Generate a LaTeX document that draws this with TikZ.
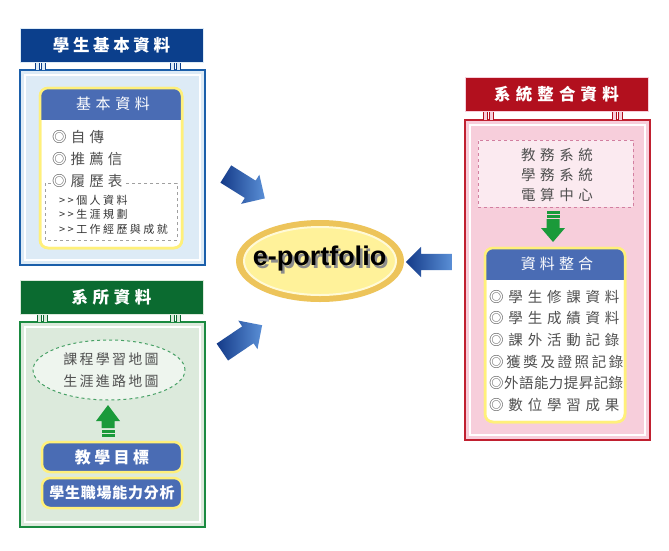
\documentclass[tikz,border=0pt]{standalone}
\usepackage{fontspec}
\setmainfont{Noto Sans CJK TC}
\newfontfamily\latinbold{Liberation Sans}
\usetikzlibrary{shapes.arrows,shapes.geometric,shadings,calc}
\definecolor{navy}{HTML}{0B3F8C}
\definecolor{bluebd}{HTML}{1B5FAA}
\definecolor{bluefill}{HTML}{DDEBF6}
\definecolor{hdrblue}{HTML}{4A6CB4}
\definecolor{ylw}{HTML}{FFF07A}
\definecolor{grtitle}{HTML}{0B6B30}
\definecolor{grbd}{HTML}{1A8A40}
\definecolor{grfill}{HTML}{DCEADC}
\definecolor{grlight}{HTML}{EEF5EE}
\definecolor{rdtitle}{HTML}{B2101E}
\definecolor{rdbd}{HTML}{C02030}
\definecolor{pkfill}{HTML}{F7CEDB}
\definecolor{pklight}{HTML}{FBEAF0}
\definecolor{pkdash}{HTML}{D27FA0}
\definecolor{garrow}{HTML}{1A9A3A}
\definecolor{itemgray}{HTML}{505050}
\definecolor{gold}{HTML}{EDC45A}
\definecolor{paleyel}{HTML}{FFF29A}
\definecolor{arrdark}{HTML}{143A88}
\definecolor{arrlight}{HTML}{5A8FD6}
\newcommand{\ls}[2]{{\addfontfeatures{LetterSpace=#1}#2}}
\begin{document}
\begin{tikzpicture}[x=1pt,y=-1pt,
  titlebar/.style={minimum width=183pt, minimum height=34pt, inner sep=0pt,
     text=white, font=\fontsize{16.5}{18}\selectfont\bfseries},
  hdrtext/.style={text=white, inner sep=0pt, font=\fontsize{15}{17}\selectfont},
  item/.style={text=itemgray, inner sep=0pt, font=\fontsize{14.5}{17}\selectfont},
  subitem/.style={text=black!80, inner sep=0pt, font=\fontsize{11}{13}\selectfont},
  bluebtn/.style={draw=ylw, line width=2.5pt, fill=hdrblue, rounded corners=8pt,
     minimum width=140pt, minimum height=30pt, inner sep=0pt, text=white},
  bigarrow/.style={single arrow, draw=none, inner sep=0pt, left color=arrdark, right color=arrlight},
  tabline/.style={line width=0.9pt}
]
\useasboundingbox[fill=white] (0,0) rectangle (669,550);

% ================= Blue group =================
\draw[bluebd, line width=1.8pt, fill=bluefill] (20,70) rectangle (205,265);
\draw[white, line width=1.2pt] (25,75) rectangle (200,260);
\foreach \x in {35,41,170,176}{
  \fill[bluefill] (\x,61) rectangle (\x+4,70);
  \draw[navy, tabline] (\x,61) -- (\x,70) (\x+4,61) -- (\x+4,70);
}
\node[titlebar, fill=navy, draw=bluefill, line width=1pt] (t1) at (111.5,45) {\ls{22}{學生基本資料}};
\draw[ylw, line width=2.5pt, fill=white, rounded corners=8pt] (40,88) rectangle (182,248);
\begin{scope}
  \clip[rounded corners=8pt] (40,88) rectangle (182,248);
  \fill[hdrblue] (40,88) rectangle (182,120);
\end{scope}
\draw[ylw, line width=2.5pt, rounded corners=8pt] (40,88) rectangle (182,248);
\node[hdrtext] (h1) at (113,104) {\ls{31}{基本資料}};
\node[item, anchor=west] (b1) at (52,137) {\ls{29}{◎自傳}};
\node[item, anchor=west] (b2) at (52,159) {\ls{28}{◎推薦信}};
\draw[gray!75, dashed, line width=1pt] (45,183) rectangle (177,240);
\node[item, anchor=west, fill=white, inner xsep=1pt, inner ysep=0pt] (b3) at (51,181) {\ls{28}{◎履歷表}};
\node[subitem, anchor=west] (s1) at (59,200) {\ls{22}{>{}>個人資料}};
\node[subitem, anchor=west] (s2) at (59,214) {\ls{22}{>{}>生涯規劃}};
\node[subitem, anchor=west] (s3) at (59,229) {\ls{22}{>{}>工作經歷與成就}};

% ================= Green group =================
\draw[grbd, line width=1.8pt, fill=grfill] (20,322) rectangle (205,527);
\draw[white, line width=1.2pt] (25,327) rectangle (200,522);
\foreach \x in {37,43,170,176}{
  \fill[grfill] (\x,313) rectangle (\x+4,322);
  \draw[grtitle, tabline] (\x,313) -- (\x,322) (\x+4,313) -- (\x+4,322);
}
\node[titlebar, fill=grtitle, draw=grfill, line width=1pt] (t2) at (111.5,297) {\ls{28}{系所資料}};
\node[ellipse, draw=grbd!80, dashed, line width=1pt, fill=grlight,
      minimum width=152pt, minimum height=60pt, inner sep=0pt] (map) at (109,370) {};
\node[item, align=center, font=\fontsize{14}{22}\selectfont] (maptxt) at (111,370)
   {\ls{16}{課程學習地圖}\\\ls{16}{生涯進路地圖}};
\coordinate (ga) at (108,405);
\fill[garrow] (ga) -- ++(12,16) -- ++(-5.5,0) -- ++(0,7) -- ++(-13,0) -- ++(0,-7) -- ++(-5.5,0) -- cycle;
\fill[garrow] ($(ga)+(-6.5,25)$) rectangle ++(13,2.5);
\fill[garrow] ($(ga)+(-6.5,29)$) rectangle ++(13,2.5);
\node[bluebtn, font=\fontsize{16}{18}\selectfont\bfseries] (goal) at (112,457) {\ls{21}{教學目標}};
\node[bluebtn, font=\fontsize{15}{18}\selectfont\bfseries] (skill) at (112,493) {\ls{5}{學生職場能力分析}};

% ================= Red group =================
\draw[rdbd, line width=1.8pt, fill=pkfill] (465,120) rectangle (650,440);
\draw[white, line width=1.2pt] (470,125) rectangle (645,435);
\foreach \x in {483,489,612,618}{
  \fill[pkfill] (\x,111) rectangle (\x+4,120);
  \draw[rdtitle, tabline] (\x,111) -- (\x,120) (\x+4,111) -- (\x+4,120);
}
\node[titlebar, fill=rdtitle, draw=pkfill, line width=1pt] (t3) at (556.5,94) {\ls{31}{系統整合資料}};
\node[draw=pkdash, dashed, line width=1pt, fill=pklight, minimum width=155pt, minimum height=67pt,
      inner sep=0pt] (sys) at (555.5,173.5) {};
\node[item, align=center, font=\fontsize{14.5}{20}\selectfont] (systxt) at (557,175)
   {\ls{32}{教務系統}\\\ls{32}{學務系統}\\\ls{32}{電算中心}};
\coordinate (gd) at (553,242);
\fill[garrow] ($(gd)+(-6.5,-31)$) rectangle ++(13,2.5);
\fill[garrow] ($(gd)+(-6.5,-27)$) rectangle ++(13,2.5);
\fill[garrow] (gd) -- ++(12,-14) -- ++(-5.5,0) -- ++(0,-9) -- ++(-13,0) -- ++(0,9) -- ++(-5.5,0) -- cycle;
\draw[ylw, line width=2.5pt, fill=white, rounded corners=8pt] (485,248) rectangle (625,422);
\begin{scope}
  \clip[rounded corners=8pt] (485,248) rectangle (625,422);
  \fill[hdrblue] (485,248) rectangle (625,280);
\end{scope}
\draw[ylw, line width=2.5pt, rounded corners=8pt] (485,248) rectangle (625,422);
\node[hdrtext] (h2) at (557,264) {\ls{27}{資料整合}};
\node[item, anchor=west] (r1) at (489,297) {\ls{33}{◎學生修課資料}};
\node[item, anchor=west] (r2) at (489,318.5) {\ls{33}{◎學生成績資料}};
\node[item, anchor=west] (r3) at (489,340) {\ls{33}{◎課外活動記錄}};
\node[item, anchor=west] (r4) at (489,361.5) {\ls{18}{◎獲獎及證照記錄}};
\node[item, anchor=west] (r5) at (489,383) {\ls{3}{◎外語能力提昇記錄}};
\node[item, anchor=west] (r6) at (489,404.5) {\ls{33}{◎數位學習成果}};

% ================= Center =================
\node[ellipse, fill=gold, minimum width=168pt, minimum height=82pt, inner sep=0pt] (ep) at (320,261) {};
\node[ellipse, fill=paleyel, draw=white!60!paleyel, line width=2pt,
      minimum width=152pt, minimum height=68pt, inner sep=0pt] (epin) at (320,261) {};
\node[text=black, font=\latinbold\fontsize{27}{30}\selectfont\bfseries] (eptxt) at (319.5,260)
   {\makebox[0pt][l]{\hspace{2.3pt}\raisebox{-2.3pt}{\color{black!45}e-portfolio}}e-portfolio};

% ================= Blue arrows =================
\node[bigarrow, minimum height=46pt, minimum width=34pt, text width=0pt, inner ysep=10pt,
      single arrow head extend=7pt, rotate=-32] (arrA) at (241,183.5) {};
\node[bigarrow, minimum height=48pt, minimum width=34pt, text width=0pt, inner ysep=10pt,
      single arrow head extend=7pt, rotate=34] (arrB) at (238,341.5) {};
\node[bigarrow, minimum height=46pt, minimum width=30pt, text width=0pt, inner ysep=8pt,
      single arrow head extend=7pt, rotate=180] (arrC) at (433,262) {};
\end{tikzpicture}
\end{document}
